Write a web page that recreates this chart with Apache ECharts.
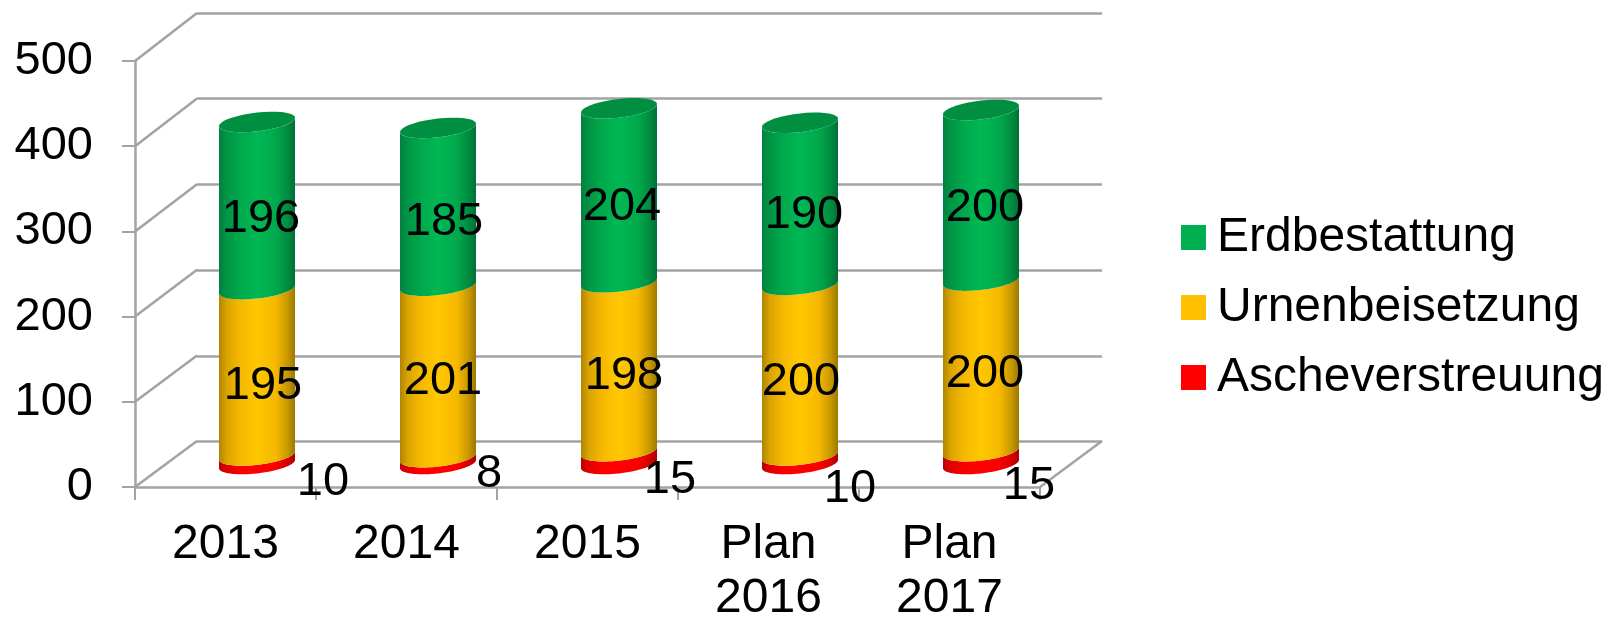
<!DOCTYPE html>
<html>
<head>
<meta charset="utf-8">
<style>html,body{margin:0;padding:0;background:#fff}#c{width:1609px;height:617px}</style>
<script src="https://cdn.jsdelivr.net/npm/echarts@6/dist/echarts.min.js"></script>
</head>
<body>
<div id="c"></div>
<script>
var categories = ['2013', '2014', '2015', 'Plan\n2016', 'Plan\n2017'];
var ascheverstreuung = [10, 8, 15, 10, 15];
var urnenbeisetzung = [195, 201, 198, 200, 200];
var erdbestattung = [196, 185, 204, 190, 200];
var yTicks = [0, 100, 200, 300, 400, 500];

// label placement relative to the centre of each segment [dx, dy]
var redNudge = [[66, 22], [51, 13], [51, 22], [50, 29], [48, 28]];
var orangeNudge = [[6, 14], [5, 10], [5, 9], [1, 12], [4, 8]];
var greenNudge = [[4, 14], [6, 15], [3, 12], [4, 11], [4, 13]];

var FONT = '"Liberation Sans", Arial, sans-serif';
var GRAY = '#A3A3A3';
var DEPTH = [62, -46];

function sideGradient(c0, c1, c2, c3, c4, c5) {
  return {type: 'linear', x: 0, y: 0, x2: 1, y2: 0, colorStops: [
    {offset: 0, color: c0}, {offset: 0.1, color: c1}, {offset: 0.27, color: c2},
    {offset: 0.5, color: c3}, {offset: 0.75, color: c2}, {offset: 0.9, color: c4}, {offset: 1, color: c5}
  ]};
}

function arc(cx, cy, a, from, to) {
  var pts = [], n = 36;
  for (var k = 0; k <= n; k++) {
    var t = from + (to - from) * k / n;
    var dx = a * Math.cos(t);
    pts.push([cx + dx, cy + 9.4 * Math.sin(t) - dx * 0.11]);
  }
  return pts;
}

function cylinderSeries(name, legendColor, values, below, fill, nudge, cap) {
  var rows = values.map(function (v, i) {
    var base = below.reduce(function (s, arr) { return s + arr[i]; }, 0);
    return [i, base, base + v, v];
  });
  return {
    name: name, type: 'custom', xAxisIndex: 2, yAxisIndex: 2, z: 3, clip: false, silent: true,
    itemStyle: {color: legendColor},
    encode: {x: 0, y: [1, 2]},
    data: rows,
    renderItem: function (params, api) {
      var i = api.value(0);
      var lo = api.coord([i, api.value(1)]);
      var hi = api.coord([i, api.value(2)]);
      var a = api.size([1, 0])[0] * 0.21;
      var body = arc(hi[0], hi[1], a, Math.PI, 0).concat(arc(lo[0], lo[1], a, 0, Math.PI));
      var kids = [{type: 'polygon', shape: {points: body}, style: {fill: fill, stroke: null}}];
      if (cap) {
        kids.push({type: 'polygon', shape: {points: arc(hi[0], hi[1], a, 0, Math.PI * 2)},
          style: {fill: cap, stroke: null}});
      }
      var n = nudge[i];
      kids.push({type: 'text', z2: 50, style: {
        text: String(api.value(3)), x: lo[0] + n[0], y: (lo[1] + hi[1]) / 2 + n[1],
        fill: '#000', font: '47px ' + FONT, align: 'center', verticalAlign: 'middle'
      }});
      return {type: 'group', children: kids};
    }
  };
}

var chart = echarts.init(document.getElementById('c'), null, {renderer: 'canvas'});
chart.setOption({
  animation: false,
  backgroundColor: '#fff',
  textStyle: {fontFamily: FONT},
  grid: [
    {left: 135, top: 61, width: 905, height: 426, outerBoundsMode: 'none'},
    {left: 197, top: 13, width: 905, height: 428.5, outerBoundsMode: 'none'},
    {left: 166.5, top: 37.5, width: 905, height: 426.5, outerBoundsMode: 'none'}
  ],
  xAxis: [
    {type: 'category', gridIndex: 0, data: categories, boundaryGap: true,
      axisLine: {lineStyle: {color: GRAY, width: 2.5}},
      axisTick: {show: true, alignWithLabel: false, length: 13, lineStyle: {color: GRAY, width: 2}},
      axisLabel: {fontSize: 48, color: '#000', fontFamily: FONT, margin: 31, lineHeight: 54, interval: 0}},
    {type: 'category', gridIndex: 1, data: categories, show: false},
    {type: 'category', gridIndex: 2, data: categories, show: false}
  ],
  yAxis: [
    {type: 'value', gridIndex: 0, min: 0, max: 500, interval: 100,
      axisLine: {show: true, lineStyle: {color: GRAY, width: 2.5}},
      axisTick: {show: true, length: 13, lineStyle: {color: GRAY, width: 2}},
      splitLine: {show: false},
      axisLabel: {fontSize: 47, color: '#000', fontFamily: FONT, margin: 42, verticalAlign: 'middle', padding: [2, 0, 0, 0]}},
    {type: 'value', gridIndex: 1, min: 0, max: 500, interval: 100,
      axisLine: {show: false}, axisTick: {show: false}, axisLabel: {show: false},
      splitLine: {show: true, showMinLine: true, showMaxLine: true, lineStyle: {color: GRAY, width: 2.5}}},
    {type: 'value', gridIndex: 2, min: 0, max: 500, interval: 100, show: false, splitLine: {show: false}}
  ],
  legend: {
    orient: 'vertical', left: 1181, top: 211.5, padding: 0, icon: 'rect', itemWidth: 25, itemHeight: 25, itemGap: 18,
    selectedMode: false,
    textStyle: {fontSize: 48, color: '#000', fontFamily: FONT, padding: [0, 0, 0, 6], lineHeight: 52},
    data: ['Erdbestattung', 'Urnenbeisetzung', 'Ascheverstreuung']
  },
  series: [
    {
      type: 'custom', xAxisIndex: 0, yAxisIndex: 0, z: 1, silent: true, clip: false,
      data: yTicks.map(function (v) { return [v]; }),
      encode: {y: 0},
      renderItem: function (params, api) {
        var p = api.coord([0, api.value(0)]);
        var half = api.size([1, 0])[0] / 2;
        var x0 = p[0] - half;
        var v = api.value(0);
        var lift = DEPTH[1] - (v / 500) * 2;
        var kids = [{type: 'line', shape: {x1: x0, y1: p[1], x2: x0 + DEPTH[0], y2: p[1] + lift},
          style: {stroke: GRAY, lineWidth: 2.5}}];
        if (v === 0) {
          var x1 = api.coord([categories.length - 1, 0])[0] + half;
          kids.push({type: 'line', shape: {x1: x1, y1: p[1], x2: x1 + DEPTH[0], y2: p[1] + lift},
            style: {stroke: GRAY, lineWidth: 2.5}});
        }
        return {type: 'group', children: kids};
      }
    },
    cylinderSeries('Ascheverstreuung', '#FF0000', ascheverstreuung, [],
      sideGradient('#B80000', '#E00000', '#FA0000', '#FF0000', '#D80000', '#A80000'), redNudge),
    cylinderSeries('Urnenbeisetzung', '#FFC000', urnenbeisetzung, [ascheverstreuung],
      sideGradient('#B08600', '#D9A300', '#F5B800', '#FFC800', '#C99800', '#9A7A00'), orangeNudge),
    cylinderSeries('Erdbestattung', '#00B050', erdbestattung, [ascheverstreuung, urnenbeisetzung],
      sideGradient('#008040', '#009545', '#00A84C', '#00B854', '#008C40', '#007038'), greenNudge, '#008F40')
  ]
});
</script>
</body>
</html>
